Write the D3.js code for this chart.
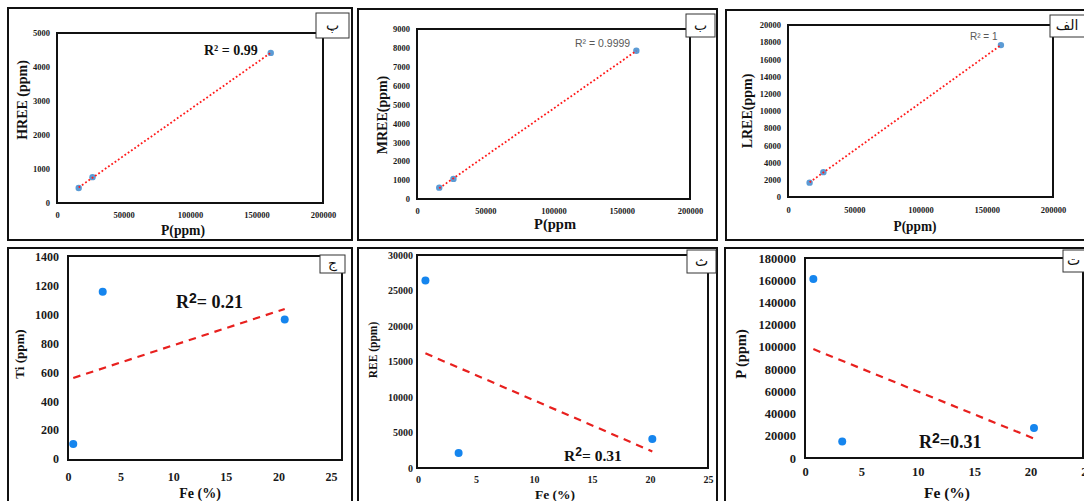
<!DOCTYPE html>
<html>
<head>
<meta charset="utf-8">
<script src="https://cdn.jsdelivr.net/npm/d3@7"></script>
<style>
  html, body { margin: 0; padding: 0; background: #fff; overflow: hidden; }
  svg { display: block; }
</style>
</head>
<body>
<svg id="fig" width="1084" height="501"></svg>
<script>
// ---- sample values ----
// P content of the three samples (ppm), shared by the upper row
const pPpm = [16300, 26700, 160700];
const lreePpm = [1670, 2890, 17660];
const mreePpm = [600, 1065, 7845];
const hreePpm = [440, 760, 4415];

// Fe (%) against Ti, total REE and P
const feTi = [0.5, 3.3, 20.6];
const tiPpm = [104, 1160, 966];
const feRee = [0.64, 3.5, 20.2];
const reePpm = [26420, 2110, 4090];
const feP = [0.74, 3.3, 20.3];
const pByFe = [161100, 14900, 27000];

// ---- tick labels ----
const pTicks = [0, 50000, 100000, 150000, 200000];
const lreeTicks = [0, 2000, 4000, 6000, 8000, 10000, 12000, 14000, 16000, 18000, 20000];
const mreeTicks = [0, 1000, 2000, 3000, 4000, 5000, 6000, 7000, 8000, 9000];
const hreeTicks = [0, 1000, 2000, 3000, 4000, 5000];
const feTicks = [0, 5, 10, 15, 20, 25];
const tiTicks = [0, 200, 400, 600, 800, 1000, 1200, 1400];
const reeTicks = [0, 5000, 10000, 15000, 20000, 25000, 30000];
const pFeTicks = [0, 20000, 40000, 60000, 80000, 100000, 120000, 140000, 160000, 180000];

// ---- panel texts ----
const panelLetters = ["پ", "ب", "الف", "ج", "ث", "ت"];
const yTitles = ["HREE (ppm)", "MREE(ppm)", "LREE(ppm)", "Ti (ppm)", "REE (ppm)", "P (ppm)"];
const xTitles = ["P(ppm)", "P(ppm", "P(ppm)", "Fe (%)", "Fe (%)", "Fe (%)"];
const r2Values = ["0.99", "0.9999", "1", "0.21", "0.31", "0.31"];

const svg = d3.select("#fig");
const SERIF = "'Liberation Serif', 'Times New Roman', serif";

// layout of each panel: outer frame, plot box, scale ranges, text placement
const panels = [
  { frame: [8, 8, 352, 240], box: [57, 33, 323, 203], xr: [57, 323], yr: [203, 33],
    xd: [0, 200000], yd: [0, 5000], xt: pTicks, yt: hreeTicks, xs: pPpm, ys: hreePpm,
    tag: [316, 13, 349, 38], row: 0, yTitle: [22, 100, 14], xTitle: [183, 235, 15, 44],
    r2: { kind: "bold", x: 204, y: 55, size: 14 }, tickSize: 8.5, ticky: 12, tickx: 7 },
  { frame: [358, 9, 717, 240], box: [417, 29, 690, 199], xr: [417, 690], yr: [199, 29],
    xd: [0, 200000], yd: [0, 9000], xt: pTicks, yt: mreeTicks, xs: pPpm, ys: mreePpm,
    tag: [686, 14, 715, 37], row: 0, yTitle: [382, 115, 14], xTitle: [555, 229, 15, 42],
    r2: { kind: "gray", x: 575, y: 47, size: 10.5 }, tickSize: 8.5, ticky: 12.5, tickx: 7 },
  { frame: [726, 10, 1092, 240], box: [788, 25, 1053, 197], xr: [788, 1053], yr: [197, 25],
    xd: [0, 200000], yd: [0, 20000], xt: pTicks, yt: lreeTicks, xs: pPpm, ys: lreePpm,
    tag: [1050, 15, 1092, 37], row: 0, yTitle: [747, 111, 14], xTitle: [915, 231, 15, 43],
    r2: { kind: "gray", x: 970, y: 40, size: 10 }, tickSize: 8.5, ticky: 13, tickx: 7 },
  { frame: [8, 248, 352, 512], box: [68, 256, 342, 460], xr: [68, 331], yr: [459, 257],
    xd: [0, 25], yd: [0, 1400], xt: feTicks, yt: tiTicks, xs: feTi, ys: tiPpm,
    tag: [320, 255, 345, 273], row: 1, yTitle: [19, 354, 13], xTitle: [200, 498, 14],
    r2: { kind: "big", x: 176, y: 308, size: 18 }, tickSize: 12, ticky: 17, tickx: 9 },
  { frame: [358, 248, 717, 512], box: [417, 255, 708, 468], xr: [418, 708], yr: [468, 255],
    xd: [0, 25], yd: [0, 30000], xt: feTicks, yt: reeTicks, xs: feRee, ys: reePpm,
    tag: [687, 250, 716, 273], row: 1, yTitle: [373, 350, 11.5], xTitle: [555, 499, 13.5],
    r2: { kind: "big", x: 564, y: 461, size: 15.5 }, tickSize: 10, ticky: 11.5, tickx: 4 },
  { frame: [725, 248, 1092, 512], box: [805, 258, 1083, 458], xr: [805, 1087], yr: [458, 258],
    xd: [0, 25], yd: [0, 180000], xt: feTicks, yt: pFeTicks, xs: feP, ys: pByFe,
    tag: [1063, 250, 1092, 272], row: 1, yTitle: [741, 354, 14.5], xTitle: [947, 498, 15.5],
    r2: { kind: "big", x: 919, y: 448, size: 18, tight: true }, tickSize: 12.5, ticky: 14, tickx: 9 }
];

// ordinary least-squares fit through a panel's points
function fit(xs, ys) {
  const mx = d3.mean(xs), my = d3.mean(ys);
  let sxy = 0, sxx = 0;
  xs.forEach((x, i) => { sxy += (x - mx) * (ys[i] - my); sxx += (x - mx) * (x - mx); });
  const b = sxy / sxx;
  return { b, a: my - b * mx };
}

panels.forEach((p, i) => {
  const g = svg.append("g");
  const x = d3.scaleLinear().domain(p.xd).range(p.xr);
  const y = d3.scaleLinear().domain(p.yd).range(p.yr);

  // outer frame
  g.append("rect")
    .attr("x", p.frame[0]).attr("y", p.frame[1])
    .attr("width", p.frame[2] - p.frame[0]).attr("height", p.frame[3] - p.frame[1])
    .attr("fill", "none").attr("stroke", "#111").attr("stroke-width", 2);

  // plot box
  g.append("rect")
    .attr("x", p.box[0]).attr("y", p.box[1])
    .attr("width", p.box[2] - p.box[0]).attr("height", p.box[3] - p.box[1])
    .attr("fill", "#fff").attr("stroke", "#111").attr("stroke-width", 2);

  // axes: labels only, no tick marks or domain line
  const xAxis = d3.axisBottom(x).tickValues(p.xt).tickSize(0).tickPadding(0).tickFormat(d3.format("d"));
  const yAxis = d3.axisLeft(y).tickValues(p.yt).tickSize(0).tickPadding(0).tickFormat(d3.format("d"));
  const gx = g.append("g").attr("transform", `translate(0,${p.box[3] + p.ticky})`).call(xAxis);
  const gy = g.append("g").attr("transform", `translate(${p.box[0] - p.tickx},0)`).call(yAxis);
  [gx, gy].forEach(ax => {
    ax.select(".domain").remove();
    ax.selectAll("text")
      .attr("font-family", SERIF).attr("font-weight", "bold")
      .attr("font-size", p.tickSize).attr("fill", "#1a1a1a");
  });
  gx.selectAll("text").attr("dy", "0.35em").attr("y", 0);

  // trend line across the data range
  const f = fit(p.xs, p.ys);
  const x0 = d3.min(p.xs), x1 = d3.max(p.xs);
  const line = d3.line().x(d => x(d[0])).y(d => y(d[1]));
  const trend = [[x0, f.a + f.b * x0], [x1, f.a + f.b * x1]];

  // markers
  g.selectAll("circle.pt").data(p.xs.map((v, k) => [v, p.ys[k]]))
    .join("circle").attr("class", "pt")
    .attr("cx", d => x(d[0])).attr("cy", d => y(d[1]))
    .attr("r", p.row === 0 ? 3.2 : 4)
    .attr("fill", p.row === 0 ? "#5b9bd5" : "#1585ee");

  if (p.row === 0) {
    g.append("path").attr("d", line(trend))
      .attr("fill", "none").attr("stroke", "#ff1a1a").attr("stroke-width", 1.8)
      .attr("stroke-dasharray", "1.8,2.2");
  } else {
    g.insert("path", "circle.pt").attr("d", line(trend))
      .attr("fill", "none").attr("stroke", "#e8201e").attr("stroke-width", 2.2)
      .attr("stroke-dasharray", "7.5,6");
  }

  // R² label
  const r = p.r2;
  if (r.kind === "gray") {
    g.append("text").attr("x", r.x).attr("y", r.y)
      .attr("font-family", "'Liberation Sans', Arial, sans-serif")
      .attr("font-size", r.size).attr("fill", "#595959")
      .text("R² = " + r2Values[i]);
  } else if (r.kind === "bold") {
    g.append("text").attr("x", r.x).attr("y", r.y)
      .attr("font-family", SERIF).attr("font-weight", "bold")
      .attr("font-size", r.size).attr("fill", "#111")
      .text("R² = " + r2Values[i]);
  } else {
    const t = g.append("text").attr("x", r.x).attr("y", r.y)
      .attr("font-family", SERIF).attr("font-weight", "bold")
      .attr("font-size", r.size).attr("fill", "#111");
    t.append("tspan").text("R");
    t.append("tspan").attr("dy", -r.size * 0.3)
      .attr("font-family", "'Liberation Sans', Arial, sans-serif")
      .attr("font-size", r.size * 0.78).text("2");
    t.append("tspan").attr("dy", r.size * 0.3)
      .text(r.tight ? "=" + r2Values[i] : "= " + r2Values[i]);
  }

  // axis titles
  g.append("text")
    .attr("transform", `translate(${p.yTitle[0]},${p.yTitle[1]}) rotate(-90)`)
    .attr("text-anchor", "middle").attr("dy", "0.35em")
    .attr("font-family", SERIF).attr("font-weight", "bold")
    .attr("font-size", p.yTitle[2]).attr("fill", "#111")
    .text(yTitles[i]);
  const xt = g.append("text")
    .attr("x", p.xTitle[0]).attr("y", p.xTitle[1])
    .attr("text-anchor", "middle")
    .attr("font-family", SERIF).attr("font-weight", "bold")
    .attr("font-size", p.xTitle[2]).attr("fill", "#111")
    .text(xTitles[i]);
  if (p.xTitle[3]) xt.attr("textLength", p.xTitle[3]).attr("lengthAdjust", "spacingAndGlyphs");

  // panel letter tag
  g.append("rect")
    .attr("x", p.tag[0]).attr("y", p.tag[1])
    .attr("width", p.tag[2] - p.tag[0]).attr("height", p.tag[3] - p.tag[1])
    .attr("fill", "#fff").attr("stroke", "#333").attr("stroke-width", 1);
  g.append("text")
    .attr("x", (p.tag[0] + Math.min(p.tag[2], 1084)) / 2).attr("y", (p.tag[1] + p.tag[3]) / 2)
    .attr("text-anchor", "middle").attr("dy", "0.3em")
    .attr("font-family", "'DejaVu Sans', 'Noto Sans', sans-serif")
    .attr("font-size", 14).attr("fill", "#111")
    .text(panelLetters[i]);
});
</script>
</body>
</html>
